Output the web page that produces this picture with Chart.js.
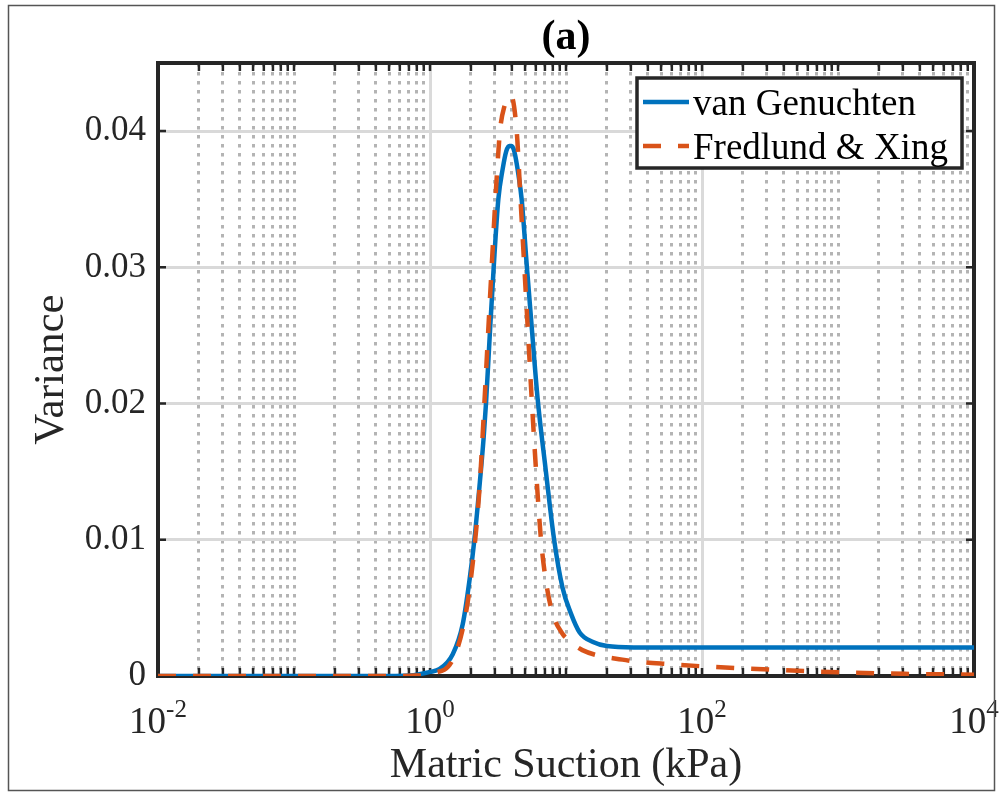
<!DOCTYPE html>
<html>
<head>
<meta charset="utf-8">
<script src="https://cdn.jsdelivr.net/npm/chart.js@4.4.1/dist/chart.umd.min.js"></script>
<style>
  html, body { margin: 0; padding: 0; background: #fff; }
  canvas { display: block; }
</style>
</head>
<body>
<canvas id="variance-canvas" width="1004" height="794"></canvas>
<script>
// values (suction in kPa)
let suctionVG  = [0.01, 0.1, 0.4, 0.71, 1.0, 1.17, 1.47, 1.74, 1.95, 2.12,
                  2.31, 2.48, 2.58, 2.75, 2.94, 3.18, 3.42, 3.63, 3.83, 3.98,
                  4.17, 4.47, 4.72, 5.16, 5.65, 6.18, 7.08, 8.18, 9.42, 10.86,
                  12.6, 15.8, 20.0, 31.6, 100, 1000, 10000];
let varianceVG = [0, 0, 0, 0.00004, 0.0003, 0.0005, 0.0016, 0.0038, 0.0070, 0.0100,
                  0.0139, 0.0175, 0.0200, 0.0250, 0.0300, 0.0350, 0.0372, 0.0385, 0.0389, 0.0389,
                  0.0385, 0.0368, 0.0350, 0.0300, 0.0251, 0.0204, 0.0152, 0.0100, 0.0065, 0.0046,
                  0.0032, 0.0025, 0.0022, 0.0021, 0.0021, 0.0021, 0.0021];
let suctionFX  = [0.01, 0.1, 0.4, 0.79, 1.05, 1.47, 1.85, 2.15, 2.31, 2.51,
                  2.63, 2.84, 3.06, 3.27, 3.52, 3.94, 4.34, 4.63, 4.94, 5.27,
                  5.62, 6.03, 6.55, 7.11, 7.96, 9.42, 10.26, 13.2, 26.0, 60.4,
                  106, 327, 1000, 3100, 10000];
let varianceFX = [0, 0, 0, 0.00003, 0.0002, 0.0012, 0.0048, 0.0100, 0.0137, 0.0200,
                  0.0238, 0.0300, 0.0358, 0.0400, 0.0418, 0.0426, 0.0400, 0.0350, 0.0300, 0.0250,
                  0.0200, 0.0150, 0.0100, 0.0070, 0.0046, 0.0031, 0.0027, 0.0019, 0.0012, 0.00085,
                  0.0007, 0.00046, 0.00028, 0.00016, 0.0001];
let seriesNames    = ['van Genuchten', 'Fredlund & Xing'];
let xTickExponents = [-2, 0, 2, 4];
let yTicks         = [0, 0.01, 0.02, 0.03, 0.04];
let yTickLabels    = ['0', '0.01', '0.02', '0.03', '0.04'];

let serif = "'Liberation Serif', 'Times New Roman', serif";
let ink   = '#262626';

// every decade step between 10^-2 and 10^4 gets a grid line
let xGridValues = [];
for (let e = -2; e < 4; e++) {
  for (let m = 1; m < 10; m++) xGridValues.push(m * Math.pow(10, e));
}
xGridValues.push(1e4);

function isMajorX(v) {
  let e = Math.log10(v);
  return Math.abs(e - Math.round(e)) < 1e-6 && xTickExponents.includes(Math.round(e));
}

function toPoints(xs, ys) {
  return xs.map((x, i) => ({x: x, y: ys[i]}));
}

// matlab-like box, inward ticks, 10^n labels, legend and figure frame
let matlabAxes = {
  id: 'matlabAxes',
  beforeDatasetsDraw(chart) {
    let {ctx, chartArea: a, scales} = chart;
    ctx.save();
    ctx.strokeStyle = ink;
    ctx.lineWidth = 2.5;
    ctx.beginPath();
    xGridValues.forEach(v => {
      let px = scales.x.getPixelForValue(v);
      ctx.moveTo(px, a.bottom); ctx.lineTo(px, a.bottom - 8);
      ctx.moveTo(px, a.top);    ctx.lineTo(px, a.top + 8);
    });
    yTicks.forEach(v => {
      let py = scales.y.getPixelForValue(v);
      ctx.moveTo(a.left, py);  ctx.lineTo(a.left + 8, py);
      ctx.moveTo(a.right, py); ctx.lineTo(a.right - 8, py);
    });
    ctx.stroke();
    ctx.lineWidth = 4;
    ctx.strokeRect(a.left, a.top, a.right - a.left, a.bottom - a.top);
    ctx.restore();
  },
  afterDraw(chart) {
    let {ctx, chartArea: a, scales} = chart;
    ctx.save();
    ctx.fillStyle = ink;
    ctx.textAlign = 'left';
    ctx.textBaseline = 'alphabetic';
    xTickExponents.forEach(e => {
      let px  = scales.x.getPixelForValue(Math.pow(10, e));
      let sup = String(e);
      ctx.font = '37px ' + serif;
      let wBase = ctx.measureText('10').width;
      ctx.font = '25px ' + serif;
      let wSup = ctx.measureText(sup).width;
      let x0 = px - (wBase + wSup) / 2;
      ctx.font = '37px ' + serif;
      ctx.fillText('10', x0, a.bottom + 57);
      ctx.font = '25px ' + serif;
      ctx.fillText(sup, x0 + wBase, a.bottom + 41);
    });

    // legend box
    let bw = 325, bh = 90;
    let bx = a.right - 12 - bw, by = a.top + 15;
    ctx.fillStyle = '#fff';
    ctx.fillRect(bx, by, bw, bh);
    ctx.lineWidth = 3.5;
    ctx.strokeStyle = ink;
    ctx.strokeRect(bx, by, bw, bh);
    chart.data.datasets.forEach((ds, i) => {
      let ly = by + 24 + i * 44;
      ctx.beginPath();
      ctx.setLineDash(ds.borderDash || []);
      ctx.lineWidth = ds.borderWidth;
      ctx.strokeStyle = ds.borderColor;
      ctx.moveTo(bx + 6, ly);
      ctx.lineTo(bx + 52, ly);
      ctx.stroke();
      ctx.setLineDash([]);
      ctx.fillStyle = '#000';
      ctx.font = '37px ' + serif;
      ctx.fillText(ds.label, bx + 56, ly + 13);
    });

    ctx.strokeStyle = '#555';
    ctx.lineWidth = 1.5;
    ctx.strokeRect(8.5, 5.5, 986, 785);
    ctx.restore();
  }
};

let ctx = document.getElementById('variance-canvas').getContext('2d');
window.varianceChart = new Chart(ctx, {
  type: 'line',
  data: {
    datasets: [
      {
        label: seriesNames[0],
        data: toPoints(suctionVG, varianceVG),
        borderColor: '#0072BD',
        borderWidth: 4.5,
        pointRadius: 0,
        cubicInterpolationMode: 'monotone',
        borderJoinStyle: 'round',
        fill: false,
        order: 1
      },
      {
        label: seriesNames[1],
        data: toPoints(suctionFX, varianceFX),
        borderColor: '#D95319',
        borderWidth: 4.5,
        borderDash: [18, 17],
        pointRadius: 0,
        cubicInterpolationMode: 'monotone',
        fill: false,
        order: 0
      }
    ]
  },
  options: {
    responsive: false,
    animation: false,
    devicePixelRatio: 1,
    layout: { padding: { left: 12, right: 30, top: 0, bottom: 3 } },
    plugins: {
      legend: { display: false },
      tooltip: { enabled: false },
      title: {
        display: true,
        text: '(a)',
        fullSize: false,
        color: '#000',
        font: { family: serif, size: 42, weight: 'bold', lineHeight: 1.2 },
        padding: { top: 12.6, bottom: 0 }
      }
    },
    scales: {
      x: {
        type: 'logarithmic',
        min: 0.01,
        max: 10000,
        afterBuildTicks: s => { s.ticks = xGridValues.map(v => ({value: v})); },
        afterFit: s => { s.height = 115; },
        ticks: { display: false },
        grid: {
          drawTicks: false,
          lineWidth: 3,
          color: c => (c.tick && isMajorX(c.tick.value)) ? '#dadada' : '#b4b4b4'
        },
        border: {
          display: false,
          dash: c => (c.tick && !isMajorX(c.tick.value)) ? [3.5, 5.5] : []
        },
        title: {
          display: true,
          text: 'Matric Suction (kPa)',
          color: ink,
          font: { family: serif, size: 42, lineHeight: 1.2 },
          padding: { top: 0, bottom: 0 }
        }
      },
      y: {
        min: 0,
        max: 0.045,
        afterBuildTicks: s => { s.ticks = yTicks.map(v => ({value: v})); },
        afterFit: s => { s.width = 146; },
        ticks: {
          padding: 12,
          color: ink,
          font: { family: serif, size: 35 },
          callback: (v, i) => yTickLabels[i]
        },
        grid: { drawTicks: false, lineWidth: 3, color: '#d9d9d9' },
        border: { display: false },
        title: {
          display: true,
          text: 'Variance',
          color: ink,
          font: { family: serif, size: 43, lineHeight: 1.2 },
          padding: { top: 14, bottom: 0 }
        }
      }
    }
  },
  plugins: [matlabAxes]
});
</script>
</body>
</html>
